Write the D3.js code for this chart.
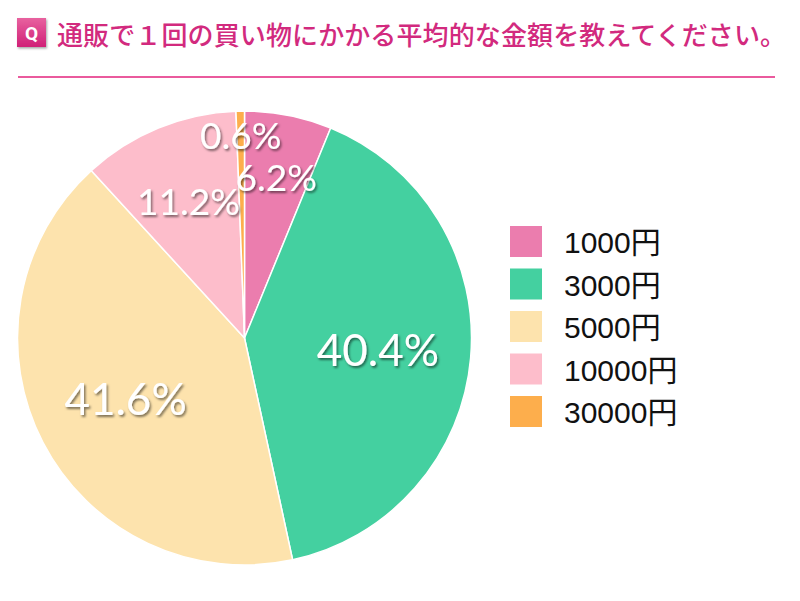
<!DOCTYPE html>
<html>
<head>
<meta charset="utf-8">
<script src="https://cdn.jsdelivr.net/npm/d3@7"></script>
<style>
  body { margin: 0; background: #fff; }
  svg { display: block; }
</style>
</head>
<body>
<div id="chart"></div>
<script>
// data
var categories = ['1000円', '3000円', '5000円', '10000円', '30000円'];
var shares = [6.2, 40.4, 41.6, 11.2, 0.6];
var colors = ['#eb7dae', '#44d0a0', '#fde3ad', '#fdbdcb', '#fdae4c'];
var title = '通販で１回の買い物にかかる平均的な金額を教えてください。';

// layout
var width = 800, height = 601;
var cx = 244.5, cy = 338, radius = 227;
// how far out each label sits (fraction of radius), small slices pushed out
var labelRadius = [0.72, 0.59, 0.59, 0.65, 0.89];

var svg = d3.select('#chart')
    .append('svg')
    .attr('width', width)
    .attr('height', height);

var defs = svg.append('defs');
var grad = defs.append('linearGradient')
    .attr('id', 'qgrad')
    .attr('x1', 0).attr('y1', 0).attr('x2', 0).attr('y2', 1);
grad.append('stop').attr('offset', '0%').attr('stop-color', '#e8629f');
grad.append('stop').attr('offset', '100%').attr('stop-color', '#d01f77');

var boxShadow = defs.append('filter').attr('id', 'boxShadow')
    .attr('x', '-20%').attr('y', '-20%').attr('width', '150%').attr('height', '150%');
boxShadow.append('feDropShadow')
    .attr('dx', 1).attr('dy', 1.5).attr('stdDeviation', 1)
    .attr('flood-color', '#000').attr('flood-opacity', 0.35);

var textShadow = defs.append('filter').attr('id', 'textShadow')
    .attr('x', '-20%').attr('y', '-30%').attr('width', '150%').attr('height', '170%');
textShadow.append('feDropShadow')
    .attr('dx', 1.5).attr('dy', 2).attr('stdDeviation', 1.2)
    .attr('flood-color', '#000').attr('flood-opacity', 0.5);

// header
var header = svg.append('g');
header.append('rect')
    .attr('x', 17).attr('y', 18)
    .attr('width', 29).attr('height', 29)
    .attr('fill', 'url(#qgrad)')
    .attr('filter', 'url(#boxShadow)');
header.append('text')
    .attr('x', 31.5).attr('y', 39.5)
    .attr('text-anchor', 'middle')
    .style('font-family', 'Roboto, "Liberation Sans", sans-serif')
    .style('font-weight', 'bold')
    .style('font-size', '19px')
    .style('fill', '#fff')
    .text('Q');
var titleText = header.append('text')
    .attr('x', 57).attr('y', 45)
    .style('font-family', '"Noto Sans CJK JP", sans-serif')
    .style('font-weight', 500)
    .style('font-size', '26px')
    .style('fill', '#d22a7e')
    .text(title);
// stretch the title so the final 。 lands near the end of the rule
var natural = titleText.node().getBBox().width;
var spacing = (729 - natural) / (title.length - 1);
titleText.style('letter-spacing', spacing + 'px');

header.append('line')
    .attr('x1', 18).attr('x2', 775)
    .attr('y1', 77).attr('y2', 77)
    .attr('stroke', '#ea5a9d')
    .attr('stroke-width', 2.2);

// pie
var pie = d3.pie().sort(null).value(function (d) { return d; });
var arcs = pie(shares);
var arc = d3.arc().innerRadius(0).outerRadius(radius);

var g = svg.append('g')
    .attr('transform', 'translate(' + cx + ',' + cy + ')');

g.selectAll('path.slice')
    .data(arcs)
    .enter()
    .append('path')
    .attr('class', 'slice')
    .attr('d', arc)
    .attr('fill', function (d, i) { return colors[i]; })
    .attr('stroke', '#fff')
    .attr('stroke-width', 1.5);

g.selectAll('text.pct')
    .data(arcs)
    .enter()
    .append('text')
    .attr('class', 'pct')
    .attr('transform', function (d, i) {
        var a = (d.startAngle + d.endAngle) / 2;
        var r = radius * labelRadius[i];
        return 'translate(' + (Math.sin(a) * r) + ',' + (-Math.cos(a) * r) + ')';
    })
    .attr('text-anchor', 'middle')
    .attr('dy', '0.36em')
    .attr('filter', 'url(#textShadow)')
    .style('font-family', 'Lato, "Open Sans", sans-serif')
    .style('font-weight', 400)
    .style('font-size', function (d, i) { return shares[i] > 20 ? '44px' : '37px'; })
    .style('fill', '#fff')
    .text(function (d, i) { return shares[i].toFixed(1) + '%'; });

// legend
var legendY = d3.scalePoint()
    .domain(categories)
    .range([226, 396]);

var legend = svg.append('g');
var item = legend.selectAll('g.item')
    .data(categories)
    .enter()
    .append('g')
    .attr('class', 'item')
    .attr('transform', function (d) { return 'translate(510,' + legendY(d) + ')'; });

item.append('rect')
    .attr('width', 32).attr('height', 31)
    .attr('fill', function (d, i) { return colors[i]; });

item.append('text')
    .attr('x', 54).attr('y', 27)
    .style('font-family', '"Liberation Sans", Arial, "Noto Sans CJK JP", sans-serif')
    .style('font-size', '30px')
    .style('fill', '#111')
    .text(function (d) { return d; });
</script>
</body>
</html>
